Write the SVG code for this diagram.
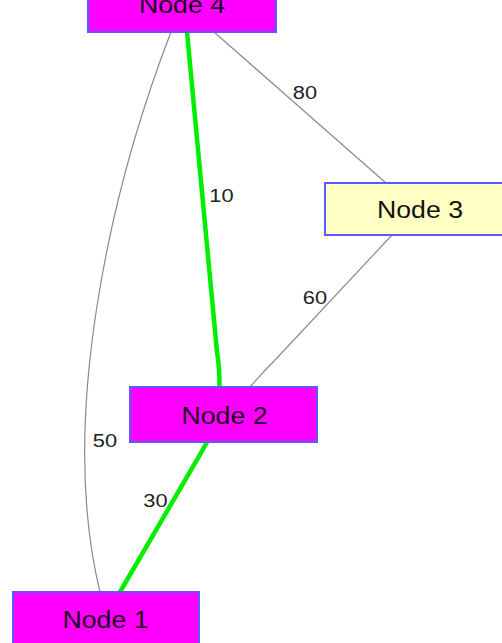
<svg xmlns="http://www.w3.org/2000/svg" width="502" height="643" viewBox="0 0 502 643">
<style>
.node rect{stroke:#5a5aff;stroke-width:2}
.hot rect{fill:#ff00ff}
.pale rect{fill:#ffffc4}
.nt{font-family:"Liberation Sans",Arial,sans-serif;font-size:23px;fill:#1a001a;text-anchor:middle}
.pale .nt{fill:#111}
.el{font-family:"Liberation Sans",Arial,sans-serif;font-size:18.5px;fill:#222;text-anchor:middle}
.thin{fill:none;stroke:#8a8a8a;stroke-width:1.2}
.best{fill:none;stroke:#00ee00;stroke-width:4.5}
</style>
<rect width="502" height="643" fill="#fff"/>
<g id="edges">
<path class="thin" d="M171,32 C110,190 58,420 100,592"/>
<path class="thin" d="M214,32 L386,183"/>
<path class="thin" d="M392,235 L276,359 Q262,373 250,387"/>
<path class="best" d="M187,32 L217,352 Q219.5,366 219.5,387"/>
<path class="best" d="M207,442 Q200,455 191,470 L120,592"/>
<g id="edge-labels">
<text class="el" transform="translate(305,99) scale(1.18,1)">80</text>
<text class="el" transform="translate(221.5,201.5) scale(1.18,1)">10</text>
<text class="el" transform="translate(315,304) scale(1.18,1)">60</text>
<text class="el" transform="translate(105,446.5) scale(1.18,1)">50</text>
<text class="el" transform="translate(155.5,507) scale(1.18,1)">30</text>
</g>
</g>
<g id="node4" class="node hot">
<rect x="88" y="-22" width="188" height="54"/>
<text class="nt" transform="translate(182,13) scale(1.16,1)">Node 4</text>
</g>
<g id="node3" class="node pale">
<rect x="325" y="183" width="188" height="52"/>
<text class="nt" transform="translate(420,218) scale(1.16,1)">Node 3</text>
</g>
<g id="node2" class="node hot">
<rect x="130" y="387" width="187" height="55"/>
<text class="nt" transform="translate(224.5,424) scale(1.16,1)">Node 2</text>
</g>
<g id="node1" class="node hot">
<rect x="13" y="592" width="186" height="56"/>
<text class="nt" transform="translate(105.5,628) scale(1.16,1)">Node 1</text>
</g>
</svg>
